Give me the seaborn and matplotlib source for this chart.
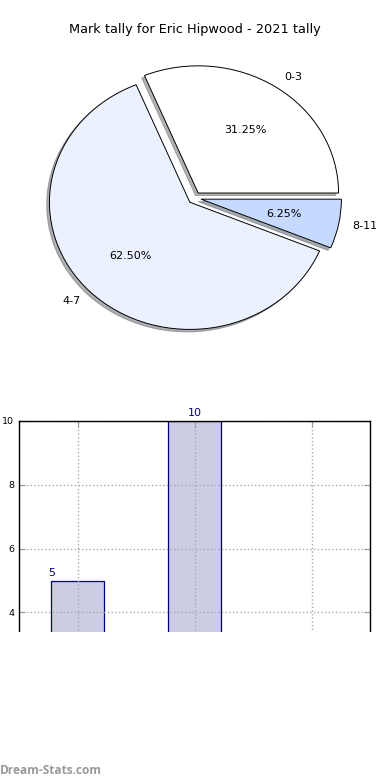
import pandas as pd
import matplotlib
matplotlib.use('Agg')
import matplotlib.pyplot as plt
import seaborn as sns
from matplotlib.patches import Rectangle

# data
ranges = ['0-3', '4-7', '8-11']
counts = [5, 10, 1]
slice_colors = ['#ffffff', '#ebf1ff', '#c6d9ff']
title = 'Mark tally for Eric Hipwood - 2021 tally'
label_shift = [-0.22, 0.0, 0.0]

sns.set_style('white')
plt.rcParams['font.family'] = ['DejaVu Sans']
plt.rcParams['text.color'] = 'black'
plt.rcParams['axes.labelcolor'] = 'black'
plt.rcParams['xtick.color'] = 'black'
plt.rcParams['ytick.color'] = 'black'

W, H = 390, 780
fig = plt.figure(figsize=(W / 100, H / 100), dpi=100)

# pie (stretched, like the old non-equal aspect pies)
ax_pie = fig.add_axes([19 / W, 1 - 357 / H, 351 / W, 318 / H])
ax_pie.pie(counts, labels=ranges, colors=slice_colors, explode=[0.047] * 3,
           autopct='%1.2f%%', shadow={'ox': -0.014, 'oy': -0.014, 'shade': 0.6},
           startangle=0,
           wedgeprops=dict(edgecolor='black', linewidth=0.7),
           textprops=dict(fontsize=8, color='black'))
ax_pie.set_aspect('auto')
ax_pie.set_xlim(-1.25, 1.25)
ax_pie.set_ylim(-1.25, 1.25)
fig.text(0.5, 1 - 30 / H, title, ha='center', va='center', fontsize=9.3)

# bar chart
ax_bar = fig.add_axes([19 / W, 1 - 740 / H, 351 / W, 319 / H])
df = pd.DataFrame({'range': ranges, 'count': counts})
sns.barplot(data=df, x='range', y='count', ax=ax_bar, color='#ccccE4',
            edgecolor='#000080', linewidth=0.9, width=0.45, saturation=1)
ax_bar.set_xlim(-0.5, 2.5)
ax_bar.set_ylim(0, 10)
ax_bar.set_axisbelow(False)
ax_bar.grid(True, linestyle=':', color='#aaaaaa', linewidth=1)
ax_bar.set_xlabel('')
ax_bar.set_ylabel('Number of Games', fontsize=6.5, labelpad=3)
ax_bar.tick_params(direction='in', length=4, color='#999999', labelsize=6.8,
                   labelcolor='black',
                   left=True, right=True, top=True, bottom=False, labelbottom=False)
for sp in ax_bar.spines.values():
    sp.set_color('black')
    sp.set_linewidth(1)
    sp.set_zorder(4)
for i, p in enumerate(ax_bar.patches[:len(counts)]):
    x = p.get_x() + p.get_width() / 2 + label_shift[i]
    ax_bar.text(x, counts[i] + 0.08, str(counts[i]), ha='center', va='bottom',
                color='#000080', fontsize=8)

# lower part of the bar chart is covered
fig.add_artist(Rectangle((0, 0), 1, 1 - 632 / H, transform=fig.transFigure,
                         facecolor='white', edgecolor='none', zorder=5))
fig.text(0.0, 1 - 770 / H, 'Dream-Stats.com', color='#999999', fontsize=8.6,
         fontweight='bold', family=['Open Sans', 'DejaVu Sans'], va='center', zorder=6)

fig.savefig('out.png', dpi=100)
